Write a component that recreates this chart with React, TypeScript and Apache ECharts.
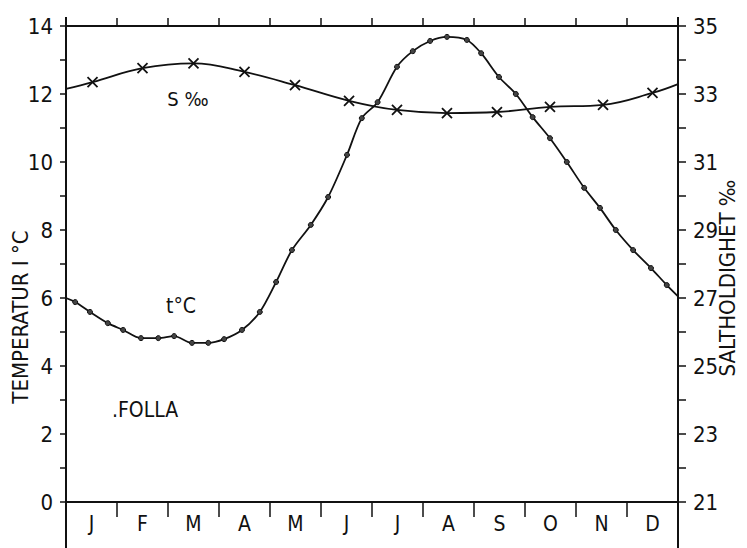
import React, { useEffect, useRef } from 'react';
import * as echarts from 'echarts';

const months = ['J', 'F', 'M', 'A', 'M', 'J', 'J', 'A', 'S', 'O', 'N', 'D'];

// temperature (°C) — position in months from 1 Jan
const tempMonth = [0, 0.18, 0.47, 0.82, 1.12, 1.47, 1.81, 2.12, 2.47, 2.79, 3.1, 3.45, 3.8, 4.12, 4.43, 4.8, 5.14, 5.51, 5.8, 6.11, 6.49, 6.8, 7.14, 7.47, 7.86, 8.14, 8.49, 8.82, 9.15, 9.49, 9.82, 10.16, 10.47, 10.78, 11.12, 11.47, 11.78, 12];
const tempValue = [6.0, 5.88, 5.59, 5.26, 5.06, 4.82, 4.82, 4.88, 4.68, 4.68, 4.79, 5.06, 5.59, 6.47, 7.41, 8.15, 8.97, 10.21, 11.29, 11.76, 12.8, 13.26, 13.56, 13.68, 13.59, 13.2, 12.5, 12.0, 11.32, 10.7, 10.0, 9.24, 8.65, 8.0, 7.41, 6.88, 6.38, 6.05];

// salinity (‰)
const salMonth = [0, 0.52, 1.5, 2.5, 3.5, 4.49, 5.55, 6.49, 7.47, 8.45, 9.49, 10.53, 11.5, 12];
const salValue = [33.15, 33.35, 33.76, 33.9, 33.65, 33.26, 32.8, 32.53, 32.44, 32.47, 32.62, 32.68, 33.03, 33.29];

const FONT = '"DejaVu Sans Condensed", "Liberation Sans Narrow", "DejaVu Sans", sans-serif';

export default function App() {
  const ref = useRef<HTMLDivElement>(null);
  useEffect(() => {
    if (!ref.current) return;
    const chart = echarts.init(ref.current, undefined, { renderer: 'svg' });
    const L = 66, R = 678, T = 26, B = 502;
    const lastIdxT = tempMonth.length - 1;
    const lastIdxS = salMonth.length - 1;
    const tempData = tempMonth.map((m, i) =>
      i === 0 || i === lastIdxT ? { value: [m, tempValue[i]], symbol: 'none' } : { value: [m, tempValue[i]] }
    );
    const salData = salMonth.map((m, i) =>
      i === 0 || i === lastIdxS ? { value: [m, salValue[i]], symbol: 'none' } : { value: [m, salValue[i]] }
    );
    chart.setOption({
      animation: false,
      backgroundColor: '#fff',
      textStyle: { fontFamily: FONT, color: '#111' },
      grid: { left: L, right: 747 - R, top: T, bottom: 548 - B },
      xAxis: [
        { type: 'value', min: 0, max: 12, show: false },
        {
          type: 'category', data: months, position: 'bottom', boundaryGap: true,
          axisLine: { lineStyle: { color: '#111', width: 2 } },
          axisTick: { show: true, length: 15, lineStyle: { color: '#111', width: 1.5 } },
          axisLabel: { color: '#111', fontSize: 21, fontFamily: FONT, margin: 11 },
          splitLine: { show: false },
        },
        {
          type: 'category', data: months, position: 'top', boundaryGap: true,
          axisLine: { lineStyle: { color: '#111', width: 2 } },
          axisTick: { show: true, length: 8, lineStyle: { color: '#111', width: 1.5 } },
          axisLabel: { show: false },
          splitLine: { show: false },
        },
      ],
      yAxis: [
        {
          type: 'value', min: 0, max: 14, interval: 1, position: 'left',
          axisLine: { show: true, lineStyle: { color: '#111', width: 2 } },
          axisTick: { show: true, length: 6, lineStyle: { color: '#111', width: 1.5 } },
          axisLabel: { color: '#111', fontSize: 22, fontFamily: FONT, margin: 13, formatter: (v: number) => (v % 2 === 0 ? String(v) : '') },
          splitLine: { show: false },
        },
        {
          type: 'value', min: 21, max: 35, interval: 1, position: 'right',
          axisLine: { show: true, lineStyle: { color: '#111', width: 2 } },
          axisTick: { show: true, length: 8, lineStyle: { color: '#111', width: 1.5 } },
          axisLabel: { color: '#111', fontSize: 22, fontFamily: FONT, margin: 15, formatter: (v: number) => ((v - 21) % 2 === 0 ? String(v) : '') },
          splitLine: { show: false },
        },
      ],
      series: [
        {
          type: 'line', xAxisIndex: 0, yAxisIndex: 0, data: tempData, smooth: 0.3,
          symbol: 'circle', symbolSize: 5,
          itemStyle: { color: '#444', borderColor: '#111', borderWidth: 1 },
          lineStyle: { color: '#111', width: 1.8 },
        },
        {
          type: 'line', xAxisIndex: 0, yAxisIndex: 1, data: salData, smooth: 0.4,
          symbol: 'path://M0,0L10,10M10,0L0,10', symbolSize: 10,
          itemStyle: { color: '#111', borderColor: '#111', borderWidth: 1.8 },
          lineStyle: { color: '#111', width: 1.8 },
        },
      ],
      graphic: [
        { type: 'line', shape: { x1: L, y1: 17, x2: L, y2: 548 }, style: { stroke: '#111', lineWidth: 2 }, z: 10 },
        { type: 'line', shape: { x1: R, y1: 17, x2: R, y2: 548 }, style: { stroke: '#111', lineWidth: 2 }, z: 10 },
        { type: 'text', x: 20, y: 317, rotation: Math.PI / 2, style: { text: 'TEMPERATUR I °C', fontSize: 22, fontFamily: FONT, fill: '#111', align: 'center', verticalAlign: 'middle' } },
        { type: 'text', x: 727, y: 278, rotation: Math.PI / 2, style: { text: 'SALTHOLDIGHET ‰', fontSize: 22, fontFamily: FONT, fill: '#111', align: 'center', verticalAlign: 'middle' } },
        { type: 'text', x: 188, y: 99, style: { text: 'S ‰', fontSize: 20, fontFamily: FONT, fill: '#111', align: 'center', verticalAlign: 'middle' } },
        { type: 'text', x: 181, y: 306, style: { text: 't°C', fontSize: 21, fontFamily: FONT, fill: '#111', align: 'center', verticalAlign: 'middle' } },
        { type: 'text', x: 145, y: 410, style: { text: '.FOLLA', fontSize: 21, fontFamily: FONT, fill: '#111', align: 'center', verticalAlign: 'middle' } },
      ],
    });
    return () => chart.dispose();
  }, []);
  return <div ref={ref} style={{ position: 'fixed', left: 0, top: 0, width: 747, height: 548 }} />;
}
